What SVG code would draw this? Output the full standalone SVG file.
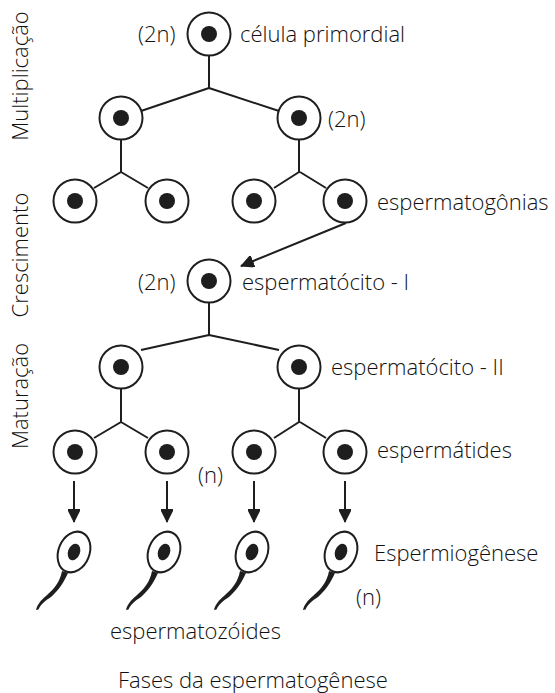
<svg xmlns="http://www.w3.org/2000/svg" width="555" height="693" viewBox="0 0 555 693">
<defs>
<style>
text{font-family:"Open Sans","Noto Sans","DejaVu Sans",sans-serif;font-size:22px;font-weight:300;fill:#111}
.cell{fill:#fff;stroke:#1e1e1e;stroke-width:2}
.nuc{fill:#1e1e1e}
.ln{fill:none;stroke:#1e1e1e;stroke-width:2}
</style>
<marker id="ahv" viewBox="0 0 14 12" refX="13" refY="6" markerWidth="14" markerHeight="12" orient="auto" markerUnits="userSpaceOnUse">
<path d="M0,-1 L14,6 L0,13 Z" fill="#1e1e1e"/>
</marker>
<g id="cellg"><circle class="cell" r="21.5"/><circle class="nuc" r="8"/></g>
<g id="sperm">
<ellipse cx="0" cy="0" rx="15.5" ry="21" transform="rotate(22)" fill="#fff" stroke="#1e1e1e" stroke-width="2"/>
<ellipse cx="0" cy="0" rx="6" ry="8.5" transform="rotate(20)" fill="#1e1e1e"/>
<path d="M -12 19 C -14 30, -20 37, -28 44 C -33 48, -37 53, -38 58 L -35.5 57.5 C -33 52, -29 49, -23 45 C -15 38, -10 30, -6 21 Z" fill="#1e1e1e"/>
</g>
</defs>
<rect width="555" height="693" fill="#fff"/>
<g id="connectors">
<path class="ln" d="M209,56 V88 M209,88 L141,111 M209,88 L279,111"/>
<path class="ln" d="M121,140 V172 L94,188 M121,172 L148,188"/>
<path class="ln" d="M299,140 V172 L274,188 M300,172 L326,188"/>
<path class="ln" d="M346,223 L241,266" marker-end="url(#ahv)"/>
<path class="ln" d="M209,303 V335 M209,335 L141,350 M209,335 L279,350"/>
<path class="ln" d="M121,389 V422 L94,438 M121,422 L148,438"/>
<path class="ln" d="M299,389 V422 L274,438 M300,422 L326,438"/>
<path class="ln" d="M74,481 V522" marker-end="url(#ahv)"/>
<path class="ln" d="M167,481 V522" marker-end="url(#ahv)"/>
<path class="ln" d="M254,481 V522" marker-end="url(#ahv)"/>
<path class="ln" d="M345,481 V522" marker-end="url(#ahv)"/>
</g>
<g id="n-primordial"><use href="#cellg" x="209" y="34"/></g>
<g id="n-g1"><use href="#cellg" x="121" y="118"/></g>
<g id="n-g2"><use href="#cellg" x="299" y="118"/></g>
<g id="n-g3"><use href="#cellg" x="75" y="201"/></g>
<g id="n-g4"><use href="#cellg" x="167" y="201"/></g>
<g id="n-g5"><use href="#cellg" x="254" y="201"/></g>
<g id="n-g6"><use href="#cellg" x="345" y="201"/></g>
<g id="n-c1"><use href="#cellg" x="209" y="281"/></g>
<g id="n-c2a"><use href="#cellg" x="121" y="367"/></g>
<g id="n-c2b"><use href="#cellg" x="299" y="367"/></g>
<g id="n-t1"><use href="#cellg" x="75" y="452"/></g>
<g id="n-t2"><use href="#cellg" x="167" y="452"/></g>
<g id="n-t3"><use href="#cellg" x="254" y="452"/></g>
<g id="n-t4"><use href="#cellg" x="345" y="452"/></g>
<g id="n-s1"><use href="#sperm" x="74" y="552"/></g>
<g id="n-s2"><use href="#sperm" x="164" y="552"/></g>
<g id="n-s3"><use href="#sperm" x="252" y="552"/></g>
<g id="n-s4"><use href="#sperm" x="341" y="552"/></g>
<g id="labels">
<text x="138" y="42">(2n)</text>
<text x="240" y="42">célula primordial</text>
<text x="328" y="127">(2n)</text>
<text x="377" y="210">espermatogônias</text>
<text x="138" y="290">(2n)</text>
<text x="242" y="290">espermatócito - I</text>
<text x="331" y="375">espermatócito - II</text>
<text x="377" y="458">espermátides</text>
<text x="198" y="483">(n)</text>
<text x="374" y="561">Espermiogênese</text>
<text x="356" y="605">(n)</text>
<text x="110" y="639">espermatozóides</text>
<text x="118" y="688">Fases da espermatogênese</text>
<text transform="translate(28,76) rotate(-90)" text-anchor="middle">Multiplicação</text>
<text transform="translate(28,255) rotate(-90)" text-anchor="middle">Crescimento</text>
<text transform="translate(28,396) rotate(-90)" text-anchor="middle">Maturação</text>
</g>
</svg>
